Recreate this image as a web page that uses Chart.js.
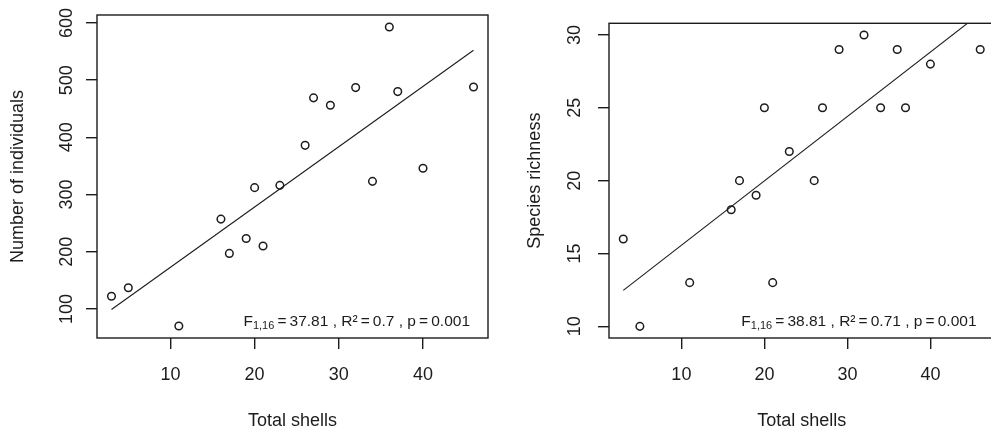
<!DOCTYPE html>
<html>
<head>
<meta charset="utf-8">
<script src="https://cdn.jsdelivr.net/npm/chart.js@4.4.1/dist/chart.umd.min.js"></script>
<style>
html,body{margin:0;padding:0;background:#fff;width:991px;height:434px;overflow:hidden;}
.panel{position:absolute;top:0;}
</style>
</head>
<body>
<div class="panel" style="left:0px"><canvas id="individualsChart" width="495" height="434"></canvas></div>
<div class="panel" style="left:496px"><canvas id="richnessChart" width="504" height="434"></canvas></div>
<script>

/* DATA */

const shells = [3, 5, 11, 16, 17, 19, 20, 21, 23, 26, 27, 29, 32, 34, 36, 37, 40, 46];
const individuals = [122, 137, 70, 257, 197, 223, 312, 210, 316, 386, 469, 456, 487, 323, 593, 480, 346, 488];
const richness = [16, 10, 13, 18, 20, 19, 25, 13, 22, 20, 25, 29, 30, 25, 29, 25, 28, 29];

const shellTicks = [10, 20, 30, 40];
const individualTicks = [100, 200, 300, 400, 500, 600];
const richnessTicks = [10, 15, 20, 25, 30];

const individualStats = { df: "1,16", f: "37.81", r2: "0.7", p: "0.001" };
const richnessStats = { df: "1,16", f: "38.81", r2: "0.71", p: "0.001" };

const INK = "#1c1c1c";
const FONT = "'Liberation Sans', Arial, sans-serif";

/* HELPERS */

// axis range padded 4% each side, like base R plots
function padRange(vals){
const lo = Math.min(...vals);
const hi = Math.max(...vals);
const d = (hi - lo) * 0.04;
return { min: lo - d, max: hi + d };
}

// least squares line through the points, drawn over the x range of the data
function fitLine(xs, ys){
const n = xs.length;
const mx = xs.reduce((a, b) => a + b, 0) / n;
const my = ys.reduce((a, b) => a + b, 0) / n;
let sxy = 0, sxx = 0;
xs.forEach((x, i) => {
sxy += (x - mx) * (ys[i] - my);
sxx += (x - mx) * (x - mx);
});
const b = sxy / sxx;
const a = my - b * mx;
const x0 = Math.min(...xs);
const x1 = Math.max(...xs);
return [{ x: x0, y: a + b * x0 }, { x: x1, y: a + b * x1 }];
}

/* PLUGINS */

const plotBox = {
id: "plotBox",
afterDraw(chart){
const { ctx, chartArea: a } = chart;
ctx.save();
ctx.strokeStyle = INK;
ctx.lineWidth = 1.4;
ctx.strokeRect(a.left, a.top, a.right - a.left, a.bottom - a.top);
ctx.restore();
}
};

const fitStats = {
id: "fitStats",
afterDraw(chart, args, opts){
const { ctx, chartArea: a } = chart;
const main = "15.5px " + FONT;
const sub = "11px " + FONT;
const eq = "\u2009=\u2009";
const parts = [
{ t: "F", font: main, dy: 0 },
{ t: opts.df, font: sub, dy: 3 },
{ t: eq + opts.f + " , R\u00b2" + eq + opts.r2 + " , p" + eq + opts.p, font: main, dy: 0 }
];
ctx.save();
ctx.fillStyle = INK;
ctx.textBaseline = "alphabetic";
ctx.textAlign = "left";
let total = 0;
parts.forEach(pt => { ctx.font = pt.font; pt.w = ctx.measureText(pt.t).width; total += pt.w; });
let x = a.right - 18 - total;
const y = a.bottom - 12;
parts.forEach(pt => {
ctx.font = pt.font;
ctx.fillText(pt.t, x, y + pt.dy);
x += pt.w;
});
ctx.restore();
}
};

/* CHART */

function makeChart(id, ys, yTicks, yTitle, stats, lay){

const ctx = document.getElementById(id);
const xr = padRange(shells);
const yr = padRange(ys);

return new Chart(ctx, {
type: "scatter",
data: {
datasets: [
{
data: shells.map((x, i) => ({ x: x, y: ys[i] })),
pointStyle: "circle",
pointRadius: 3.8,
pointBorderWidth: 1.5,
pointBorderColor: INK,
pointBackgroundColor: "rgba(0,0,0,0)"
},
{
type: "line",
data: fitLine(shells, ys),
borderColor: INK,
borderWidth: 1.1,
pointRadius: 0,
fill: false
}
]
},
options: {
responsive: false,
devicePixelRatio: 1,
animation: false,
events: [],
layout: { padding: { top: 15, right: lay.right, left: 0, bottom: 0 } },
plugins: {
legend: { display: false },
tooltip: { enabled: false },
fitStats: stats
},
scales: {
x: {
type: "linear",
min: xr.min,
max: xr.max,
afterBuildTicks: s => { s.ticks = shellTicks.map(v => ({ value: v })); },
afterFit: s => { s.height = 96; },
border: { display: false },
grid: { drawOnChartArea: false, drawTicks: true, tickLength: 11, color: INK, lineWidth: 1.4 },
ticks: { color: INK, font: { family: FONT, size: 18 }, padding: 15.4, maxRotation: 0 },
title: { display: true, text: "Total shells", color: INK, font: { family: FONT, size: 18 }, padding: { top: 0, bottom: 2 } }
},
y: {
type: "linear",
min: yr.min,
max: yr.max,
afterBuildTicks: s => { s.ticks = yTicks.map(v => ({ value: v })); },
afterFit: s => { s.width = lay.yWidth; },
border: { display: false },
grid: { drawOnChartArea: false, drawTicks: true, tickLength: 11, color: INK, lineWidth: 1.4 },
ticks: { color: INK, font: { family: FONT, size: 18 }, minRotation: 90, maxRotation: 90, crossAlign: "center", padding: lay.tickPad },
title: { display: true, text: yTitle, color: INK, font: { family: FONT, size: 18 }, padding: { top: lay.titlePad, bottom: 0 } }
}
}
},
plugins: [plotBox, fitStats]
});

}

makeChart("individualsChart", individuals, individualTicks, "Number of individuals", individualStats,
{ right: 7, yWidth: 97, tickPad: 4.2, titlePad: 7.5 });

makeChart("richnessChart", richness, richnessTicks, "Species richness", richnessStats,
{ right: 0, yWidth: 113, tickPad: 12.5, titlePad: 28 });

</script>
</body>
</html>
